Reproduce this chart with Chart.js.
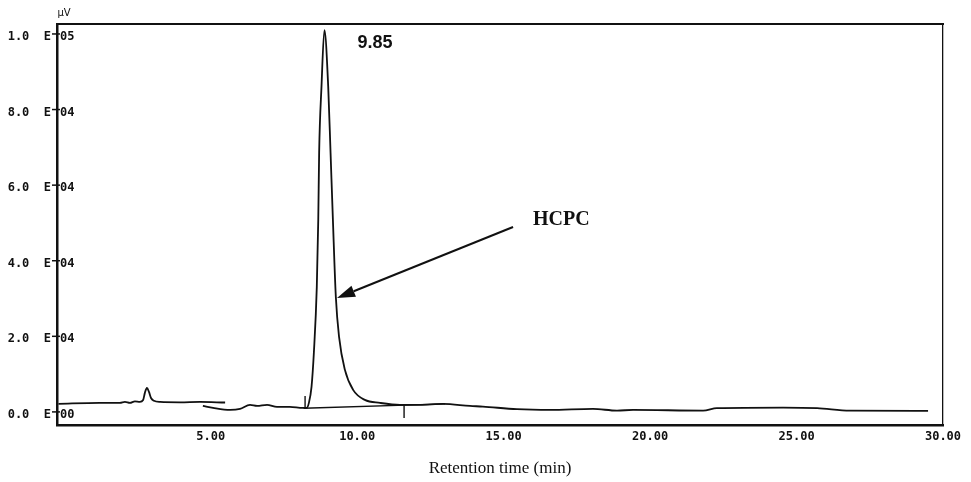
<!DOCTYPE html>
<html>
<head>
<meta charset="utf-8">
<script src="https://cdn.jsdelivr.net/npm/chart.js@4/dist/chart.umd.min.js"></script>
<style>
    body { margin: 0; background: #fff; }
    #wrap { width: 971px; height: 482px; }
</style>
</head>
<body>
<div id="wrap"><canvas id="ChCromatograma" width="971" height="482"></canvas></div>
<script>
// axis ticks
const xTicks = [5, 10, 15, 20, 25, 30];
const xTickLabels = ['5.00', '10.00', '15.00', '20.00', '25.00', '30.00'];
const yTicks = [0, 20000, 40000, 60000, 80000, 100000];
const yTickMant = ['0.0', '2.0', '4.0', '6.0', '8.0', '1.0'];
const yTickExp = ['00', '04', '04', '04', '04', '05'];

// first run segment (0 - 5.5 min)
const traceAX = [-0.2, 1.2, 1.9, 2.07, 2.24, 2.41, 2.58, 2.69, 2.75, 2.82, 2.89, 2.96, 3.06, 3.27, 3.95, 4.63, 5.49];
const traceAY = [2400, 2650, 2650, 2900, 2650, 3050, 2900, 3400, 5300, 6600, 5550, 3950, 3200, 2900, 2800, 2900, 2750];

// main run with the HCPC peak
const traceBX = [4.73, 5.08, 5.66, 6.0, 6.34, 6.58, 6.92, 7.26, 7.7, 8.14, 8.27, 8.35, 8.44, 8.52, 8.62, 8.67, 8.7, 8.78, 8.88, 9.01, 9.09, 9.17, 9.27, 9.38, 9.58, 9.86, 10.26, 10.78, 11.46, 12.14, 12.93, 13.85, 14.29, 15.45, 16.58, 18.05, 18.87, 19.42, 21.81, 22.28, 24.54, 25.7, 26.82, 29.49];
const traceBY = [1850, 1320, 790, 1060, 2120, 1850, 2120, 1590, 1590, 1320, 1320, 2650, 6880, 15900, 33340, 51070, 68800, 86260, 101300, 86260, 68800, 51070, 30700, 20100, 11380, 6090, 3440, 2650, 2120, 2120, 2380, 1850, 1670, 980, 790, 1060, 610, 790, 610, 1240, 1400, 1240, 610, 530];

// integration baseline and start / end marks
const baseX = [8.17, 13.0];
const baseY = [1240, 2400];
const startMarkX = [8.22, 8.22];
const startMarkY = [1240, 4500];
const endMarkX = [11.6, 11.6];
const endMarkY = [2120, -1320];

// annotations (data units)
const peakLabel = '9.85';
const peakLabelPos = [10.61, 97900];
const compLabel = 'HCPC';
const compLabelPos = [16.0, 51070];
const arrowFrom = [15.32, 49200];
const arrowTo = [9.31, 30400];

const toPoints = (xs, ys) => xs.map((x, i) => ({ x: x, y: ys[i] }));

const lineSet = (xs, ys, w) => ({
    data: toPoints(xs, ys),
    borderColor: '#111',
    borderWidth: w,
    pointRadius: 0,
    fill: false,
    cubicInterpolationMode: 'monotone'
});

const AnotacionesPlugin = {
    id: 'anotaciones',
    afterDraw: (chart) => {
        const ctx = chart.ctx;
        const sx = chart.scales.x;
        const sy = chart.scales.y;
        const ax = sx.left;
        ctx.save();
        ctx.fillStyle = '#111';
        ctx.strokeStyle = '#111';

        // tick crosses + exponents on the y axis
        ctx.lineWidth = 1.5;
        ctx.font = 'bold 12px "DejaVu Sans Mono"';
        ctx.textAlign = 'left';
        ctx.textBaseline = 'middle';
        yTicks.forEach((v, i) => {
            const py = sy.getPixelForValue(v) + 2;
            ctx.beginPath();
            ctx.moveTo(ax - 5, py - 3);
            ctx.lineTo(ax + 3, py - 3);
            ctx.stroke();
            ctx.fillText(yTickExp[i], ax + 3, py);
        });

        // unit
        ctx.font = '10px "DejaVu Sans"';
        ctx.textAlign = 'center';
        ctx.fillText('\u00b5V', ax + 7, chart.chartArea.top - 11);

        // peak retention time
        ctx.font = 'bold 18px "Liberation Sans"';
        ctx.fillText(peakLabel, sx.getPixelForValue(peakLabelPos[0]), sy.getPixelForValue(peakLabelPos[1]));

        // compound name
        ctx.font = 'bold 20px "Liberation Serif"';
        ctx.textAlign = 'left';
        ctx.fillText(compLabel, sx.getPixelForValue(compLabelPos[0]), sy.getPixelForValue(compLabelPos[1]));

        // arrow
        const x1 = sx.getPixelForValue(arrowFrom[0]);
        const y1 = sy.getPixelForValue(arrowFrom[1]);
        const x2 = sx.getPixelForValue(arrowTo[0]);
        const y2 = sy.getPixelForValue(arrowTo[1]);
        const ang = Math.atan2(y2 - y1, x2 - x1);
        const hl = 18, hw = 6;
        const bx = x2 - hl * Math.cos(ang);
        const by = y2 - hl * Math.sin(ang);
        ctx.lineWidth = 2;
        ctx.beginPath();
        ctx.moveTo(x1, y1);
        ctx.lineTo(bx, by);
        ctx.stroke();
        ctx.beginPath();
        ctx.moveTo(x2, y2);
        ctx.lineTo(bx + hw * Math.sin(ang), by - hw * Math.cos(ang));
        ctx.lineTo(bx - hw * Math.sin(ang), by + hw * Math.cos(ang));
        ctx.closePath();
        ctx.fill();
        ctx.restore();
    }
};

var ctx = document.getElementById('ChCromatograma');
var ChCromatograma = new Chart(ctx, {
    type: 'line',
    data: {
        datasets: [
            lineSet(traceAX, traceAY, 1.8),
            lineSet(traceBX, traceBY, 1.8),
            lineSet(baseX, baseY, 1.4),
            lineSet(startMarkX, startMarkY, 1.4),
            lineSet(endMarkX, endMarkY, 1.4)
        ]
    },
    options: {
        responsive: false,
        animation: false,
        devicePixelRatio: 1,
        layout: { padding: { top: 24, right: 28, left: 0, bottom: 0 } },
        plugins: {
            legend: { display: false },
            tooltip: { enabled: false }
        },
        scales: {
            x: {
                type: 'linear',
                min: -0.25,
                max: 30,
                afterBuildTicks: (scale) => {
                    scale.ticks = xTicks.map(v => ({ value: v }));
                },
                afterFit: (scale) => { scale.height = 57; },
                grid: { display: false, drawTicks: false },
                border: { display: true, color: '#111', width: 2.5 },
                ticks: {
                    color: '#111',
                    padding: 5,
                    maxRotation: 0,
                    autoSkip: false,
                    font: { family: '"DejaVu Sans Mono"', size: 12, weight: 'bold' },
                    callback: (v) => xTickLabels[xTicks.indexOf(v)]
                },
                title: {
                    display: true,
                    text: 'Retention time (min)',
                    color: '#111',
                    padding: { top: 0, bottom: 3 },
                    font: { family: '"Liberation Serif"', size: 17 }
                }
            },
            y: {
                type: 'linear',
                min: -3200,
                max: 102900,
                afterBuildTicks: (scale) => {
                    scale.ticks = yTicks.map(v => ({ value: v }));
                },
                afterFit: (scale) => { scale.width = 57; },
                grid: { display: false, drawTicks: false },
                border: { display: true, color: '#111', width: 2.5 },
                ticks: {
                    color: '#111',
                    padding: 6,
                    labelOffset: 2,
                    autoSkip: false,
                    font: { family: '"DejaVu Sans Mono"', size: 12, weight: 'bold' },
                    callback: (v) => yTickMant[yTicks.indexOf(v)] + '  E'
                }
            },
            xTop: {
                type: 'linear',
                position: 'top',
                min: 0,
                max: 1,
                afterFit: (scale) => { scale.height = 0; },
                grid: { display: false, drawTicks: false },
                border: { display: true, color: '#111', width: 2 },
                ticks: { display: false }
            },
            yRight: {
                type: 'linear',
                position: 'right',
                min: 0,
                max: 1,
                afterFit: (scale) => { scale.width = 0; },
                grid: { display: false, drawTicks: false },
                border: { display: true, color: '#111', width: 1.3 },
                ticks: { display: false }
            }
        }
    },
    plugins: [AnotacionesPlugin]
});
</script>
</body>
</html>
